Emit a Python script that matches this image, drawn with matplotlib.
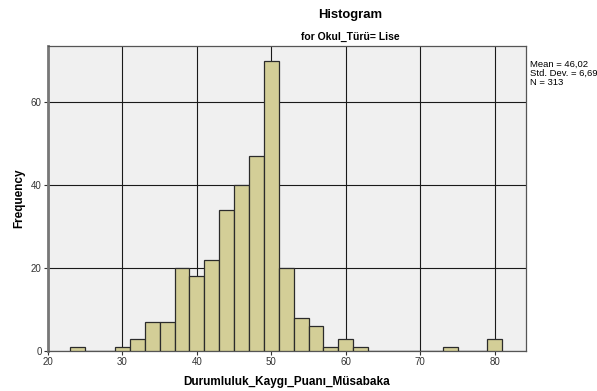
import numpy as np
import matplotlib
matplotlib.use("Agg")
import matplotlib.pyplot as plt

# histogram bins (width 2) and their counts
bin_edges = [23, 25, 27, 29, 31, 33, 35, 37, 39, 41, 43, 45, 47, 49, 51, 53, 55, 57, 59, 61, 63,
             65, 67, 69, 71, 73, 75, 77, 79, 81]
counts = [1, 0, 0, 1, 3, 7, 7, 20, 18, 22, 34, 40, 47, 70, 20, 8, 6, 1, 3, 1,
          0, 0, 0, 0, 0, 1, 0, 0, 3]
x_ticks = [20, 30, 40, 50, 60, 70, 80]
y_ticks = [0, 20, 40, 60]
stats_text = "Mean = 46,02\nStd. Dev. = 6,69\nN = 313"

plt.rcParams['font.family'] = ['Liberation Sans', 'DejaVu Sans']

W, H = 597, 391
fig = plt.figure(figsize=(W / 100, H / 100), dpi=100)
ax = fig.add_axes([48 / W, 1 - 351 / H, (526 - 48) / W, (351 - 46) / H])
ax.set_facecolor('#f0f0f0')

left = np.array(bin_edges[:-1])
widths = np.diff(bin_edges)
ax.bar(left, counts, width=widths, align='edge', color='#d3ce97',
       edgecolor='#2b2b2b', linewidth=0.9, zorder=3)

ax.set_xlim(20, 84.2)
ax.set_ylim(0, 73.5)
ax.set_xticks(x_ticks)
ax.set_yticks(y_ticks)
ax.grid(True, color='#1a1a1a', linewidth=0.8, zorder=1)
ax.tick_params(labelsize=7, length=3, width=0.8, colors='#333333', pad=1.5)

for side in ['top', 'right', 'bottom']:
    ax.spines[side].set_color('#555555')
    ax.spines[side].set_linewidth(0.9)
ax.spines['left'].set_color('#777777')
ax.spines['left'].set_linewidth(2)

ax.set_xlabel("Durumluluk_Kaygı_Puanı_Müsabaka", fontsize=8.5, fontweight='bold', labelpad=6)
ax.set_ylabel("Frequency", fontsize=8.5, fontweight='bold', labelpad=4)

fig.text(350 / W, 1 - 15 / H, "Histogram", fontsize=9.4, fontweight='bold',
         ha='center', va='center')
fig.text(350 / W, 1 - 37 / H, "for Okul_Türü= Lise", fontsize=7.5, fontweight='bold',
         ha='center', va='center')
fig.text(530 / W, 1 - 60 / H, stats_text, fontsize=6.8, ha='left', va='top',
         linespacing=1.0)

fig.savefig("out.png", dpi=100)
